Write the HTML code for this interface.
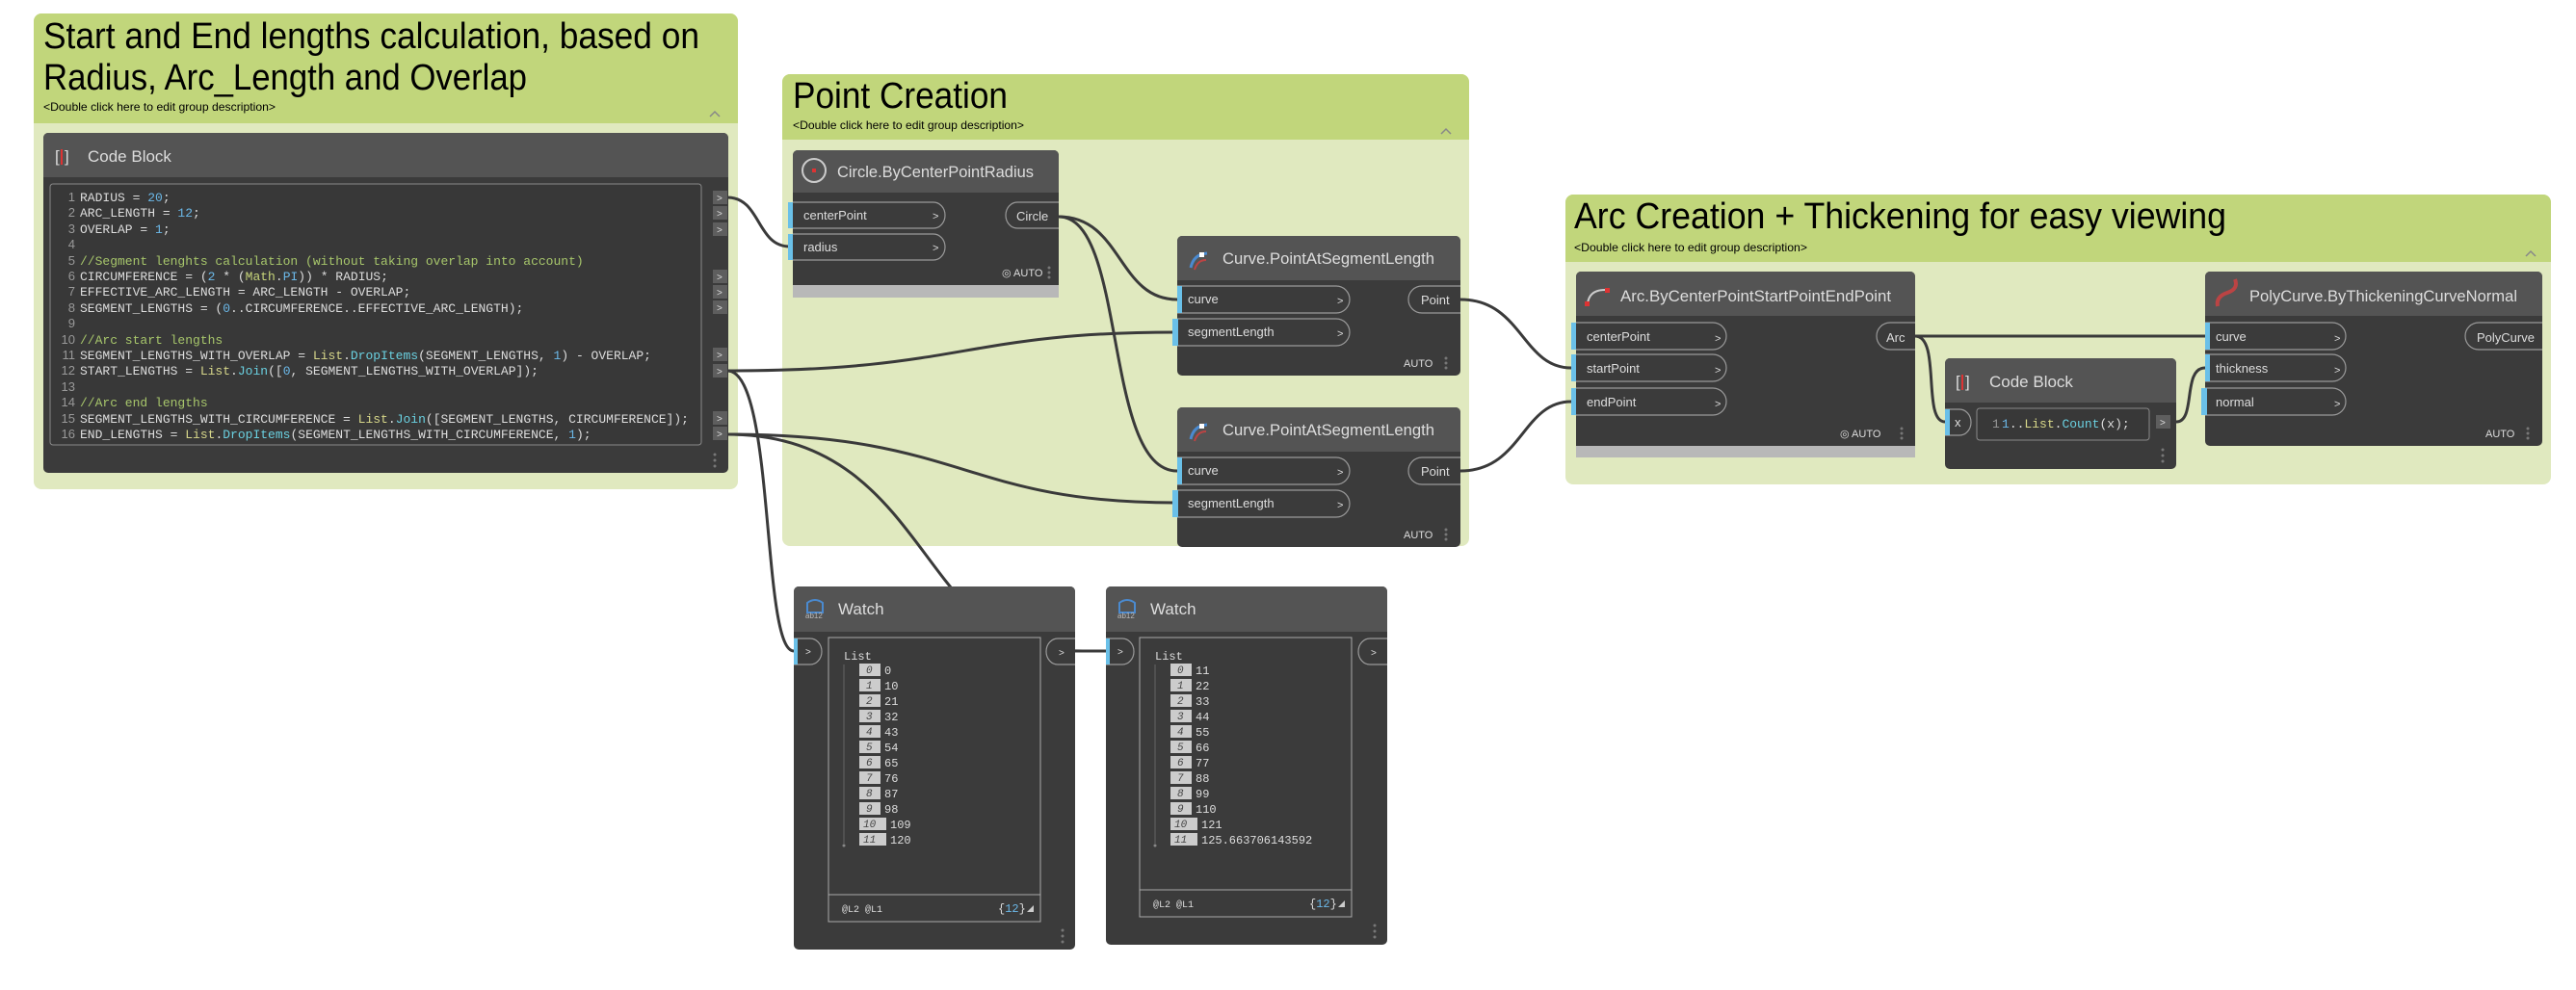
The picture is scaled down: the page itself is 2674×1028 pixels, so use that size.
<!DOCTYPE html>
<html><head><meta charset="utf-8"><style>
html,body{margin:0;padding:0;background:#fff;}
svg{display:block;}
text{font-family:"Liberation Sans",sans-serif;}
.m{font-family:"Liberation Mono",monospace;}
</style></head><body>
<svg width="2674" height="1028" viewBox="0 0 2674 1028" xmlns="http://www.w3.org/2000/svg">
<!-- Groups -->
<rect x="35" y="14" width="731" height="494" rx="8" fill="#e0e9bf"/>
<path d="M35,128 V22 a8,8 0 0 1 8,-8 H758 a8,8 0 0 1 8,8 V128 Z" fill="#c1d67b"/>
<text x="45" y="50" font-size="38" textLength="681" lengthAdjust="spacingAndGlyphs" fill="#000">Start and End lengths calculation, based on</text>
<text x="45" y="93" font-size="38" textLength="502" lengthAdjust="spacingAndGlyphs" fill="#000">Radius, Arc_Length and Overlap</text>
<text x="45" y="115" font-size="12" textLength="241" lengthAdjust="spacingAndGlyphs">&lt;Double click here to edit group description&gt;</text>
<path d="M737,121 l5,-5 l5,5" stroke="#888" stroke-width="1.5" fill="none"/>

<rect x="812" y="77" width="713" height="490" rx="8" fill="#e0e9bf"/>
<path d="M812,145 V85 a8,8 0 0 1 8,-8 H1517 a8,8 0 0 1 8,8 V145 Z" fill="#c1d67b"/>
<text x="823" y="112" font-size="38" textLength="223" lengthAdjust="spacingAndGlyphs">Point Creation</text>
<text x="823" y="134" font-size="12" textLength="240" lengthAdjust="spacingAndGlyphs">&lt;Double click here to edit group description&gt;</text>
<path d="M1496,139 l5,-5 l5,5" stroke="#888" stroke-width="1.5" fill="none"/>

<rect x="1625" y="202" width="1023" height="301" rx="8" fill="#e0e9bf"/>
<path d="M1625,272 V210 a8,8 0 0 1 8,-8 H2640 a8,8 0 0 1 8,8 V272 Z" fill="#c1d67b"/>
<text x="1634" y="237" font-size="38" textLength="677" lengthAdjust="spacingAndGlyphs">Arc Creation + Thickening for easy viewing</text>
<text x="1634" y="261" font-size="12" textLength="242" lengthAdjust="spacingAndGlyphs">&lt;Double click here to edit group description&gt;</text>
<path d="M2622,266 l5,-5 l5,5" stroke="#888" stroke-width="1.5" fill="none"/>

<!-- Wires -->
<g stroke="#3a3a3a" stroke-width="3" fill="none">
<path d="M755,205 C790,205 785,256 820,256"/>
<path d="M755,385 C1000,385 1000,345 1220,345"/>
<path d="M755,385 C805,385 790,676 824,676"/>
<path d="M755,451 C1000,451 1000,522 1220,522"/>
<path d="M755,451 C900,451 940,560 1000,625 C1050,680 1100,676 1148,676"/>
<path d="M1099,225 C1165,225 1160,311 1222,311"/>
<path d="M1099,225 C1170,225 1145,489 1222,489"/>
<path d="M1516,311 C1580,311 1580,382 1631,382"/>
<path d="M1516,489 C1580,489 1580,417 1631,417"/>
<path d="M1988,349 L2289,349"/>
<path d="M1988,349 C2015,349 1995,438 2019,438"/>
<path d="M2259,438 C2280,438 2265,382 2289,382"/>
<path d="M1116,676 L1148,676"/>
</g>

<!-- Code Block big -->
<rect x="45" y="138" width="711" height="353" rx="5" fill="#3b3b3b"/>
<path d="M45,184 V143 a5,5 0 0 1 5,-5 H751 a5,5 0 0 1 5,5 V184 Z" fill="#545454"/>
<text x="57" y="168" font-size="17" fill="#ddd">[</text><rect x="63" y="155" width="2" height="16" fill="#d33"/><text x="67" y="168" font-size="17" fill="#ddd">]</text>
<text x="91" y="168" font-size="17" fill="#ddd">Code Block</text>
<rect x="52" y="191" width="676" height="271" rx="3" fill="#383838" stroke="#8a8a8a" stroke-width="1"/>
<g class="m" font-size="13" fill="#ddd">
<g fill="#999" text-anchor="end">
<text x="78" y="209">1</text><text x="78" y="225">2</text><text x="78" y="242">3</text><text x="78" y="258">4</text><text x="78" y="275">5</text><text x="78" y="291">6</text><text x="78" y="307">7</text><text x="78" y="324">8</text><text x="78" y="340">9</text><text x="78" y="357">10</text><text x="78" y="373">11</text><text x="78" y="389">12</text><text x="78" y="406">13</text><text x="78" y="422">14</text><text x="78" y="439">15</text><text x="78" y="455">16</text>
</g>
<text x="83" y="209" class="m">RADIUS = <tspan fill="#6bb8e8">20</tspan>;</text>
<text x="83" y="225" class="m">ARC_LENGTH = <tspan fill="#6bb8e8">12</tspan>;</text>
<text x="83" y="242" class="m">OVERLAP = <tspan fill="#6bb8e8">1</tspan>;</text>
<text x="83" y="275" class="m" fill="#a7c66b">//Segment lenghts calculation (without taking overlap into account)</text>
<text x="83" y="291" class="m">CIRCUMFERENCE = (<tspan fill="#6bb8e8">2</tspan> * (<tspan fill="#c8d67b">Math</tspan>.<tspan fill="#6bb8e8">PI</tspan>)) * RADIUS;</text>
<text x="83" y="307" class="m">EFFECTIVE_ARC_LENGTH = ARC_LENGTH - OVERLAP;</text>
<text x="83" y="324" class="m">SEGMENT_LENGTHS = (<tspan fill="#6bb8e8">0</tspan>..CIRCUMFERENCE..EFFECTIVE_ARC_LENGTH);</text>
<text x="83" y="357" class="m" fill="#a7c66b">//Arc start lengths</text>
<text x="83" y="373" class="m">SEGMENT_LENGTHS_WITH_OVERLAP = <tspan fill="#d7d78a">List</tspan>.<tspan fill="#6ad0e0">DropItems</tspan>(SEGMENT_LENGTHS, <tspan fill="#6bb8e8">1</tspan>) - OVERLAP;</text>
<text x="83" y="389" class="m">START_LENGTHS = <tspan fill="#d7d78a">List</tspan>.<tspan fill="#6ad0e0">Join</tspan>([<tspan fill="#6bb8e8">0</tspan>, SEGMENT_LENGTHS_WITH_OVERLAP]);</text>
<text x="83" y="422" class="m" fill="#a7c66b">//Arc end lengths</text>
<text x="83" y="439" class="m">SEGMENT_LENGTHS_WITH_CIRCUMFERENCE = <tspan fill="#d7d78a">List</tspan>.<tspan fill="#6ad0e0">Join</tspan>([SEGMENT_LENGTHS, CIRCUMFERENCE]);</text>
<text x="83" y="455" class="m">END_LENGTHS = <tspan fill="#d7d78a">List</tspan>.<tspan fill="#6ad0e0">DropItems</tspan>(SEGMENT_LENGTHS_WITH_CIRCUMFERENCE, <tspan fill="#6bb8e8">1</tspan>);</text>
</g>
<g fill="#5e5e5e">
<rect x="740" y="198" width="15" height="14"/><rect x="740" y="214" width="15" height="14"/><rect x="740" y="231" width="15" height="14"/>
<rect x="740" y="280" width="15" height="14"/><rect x="740" y="296" width="15" height="14"/><rect x="740" y="312" width="15" height="14"/>
<rect x="740" y="361" width="15" height="14"/><rect x="740" y="378" width="15" height="14"/>
<rect x="740" y="427" width="15" height="14"/><rect x="740" y="443" width="15" height="14"/>
</g>
<g font-size="10" fill="#ddd">
<text x="744" y="209">&gt;</text><text x="744" y="225">&gt;</text><text x="744" y="242">&gt;</text><text x="744" y="291">&gt;</text><text x="744" y="307">&gt;</text><text x="744" y="323">&gt;</text><text x="744" y="372">&gt;</text><text x="744" y="389">&gt;</text><text x="744" y="438">&gt;</text><text x="744" y="454">&gt;</text>
</g>
<g fill="#777"><circle cx="742" cy="472" r="1.5"/><circle cx="742" cy="478" r="1.5"/><circle cx="742" cy="484" r="1.5"/></g>

<!-- Circle node -->
<rect x="823" y="156" width="276" height="153" rx="5" fill="#3b3b3b"/>
<path d="M823,200 V161 a5,5 0 0 1 5,-5 H1094 a5,5 0 0 1 5,5 V200 Z" fill="#545454"/>
<rect x="823" y="296" width="276" height="13" fill="#b8b8b8"/>
<circle cx="845" cy="177" r="12" fill="none" stroke="#ccc" stroke-width="2"/><rect x="843" y="175" width="4" height="4" fill="#d33"/>
<text x="869" y="184" font-size="17" fill="#ddd" textLength="204" lengthAdjust="spacingAndGlyphs">Circle.ByCenterPointRadius</text>
<g fill="none" stroke="#999" stroke-width="1.2">
<path d="M823,210 H969 a12,13.5 0 0 1 12,13.5 a12,13.5 0 0 1 -12,13.5 H823"/>
<path d="M823,243 H969 a12,13.5 0 0 1 12,13.5 a12,13.5 0 0 1 -12,13.5 H823"/>
<path d="M1099,210 H1056 a12,13.5 0 0 0 -12,13.5 a12,13.5 0 0 0 12,13.5 H1099"/>
</g>
<rect x="818" y="210" width="5" height="27" fill="#6ac0e8"/><rect x="818" y="243" width="5" height="27" fill="#6ac0e8"/>
<g font-size="13" fill="#ddd"><text x="834" y="228">centerPoint</text><text x="834" y="261">radius</text><text x="968" y="228" font-size="11">&gt;</text><text x="968" y="261" font-size="11">&gt;</text><text x="1055" y="229">Circle</text></g>
<text x="1040" y="287" font-size="11" fill="#ddd">◎ AUTO</text>
<g fill="#777"><circle cx="1089" cy="278" r="1.5"/><circle cx="1089" cy="283" r="1.5"/><circle cx="1089" cy="288" r="1.5"/></g>

<!-- Curve nodes -->
<g id="cv">
<rect x="1222" y="245" width="294" height="145" rx="5" fill="#3b3b3b"/>
<path d="M1222,291 V250 a5,5 0 0 1 5,-5 H1511 a5,5 0 0 1 5,5 V291 Z" fill="#545454"/>
<path d="M1236,278 q3,-14 17,-15" stroke="#4a8ad0" stroke-width="3" fill="none"/><path d="M1240,280 q3,-10 12,-10" stroke="#b44" stroke-width="2" fill="none"/><rect x="1245" y="262" width="5" height="5" fill="#fff"/>
<text x="1269" y="274" font-size="17" fill="#ddd" textLength="220" lengthAdjust="spacingAndGlyphs">Curve.PointAtSegmentLength</text>
<g fill="none" stroke="#999" stroke-width="1.2">
<path d="M1222,297 H1387 a14,14 0 0 1 14,14 a14,14 0 0 1 -14,14 H1222"/>
<path d="M1222,331 H1387 a14,14 0 0 1 14,14 a14,14 0 0 1 -14,14 H1222"/>
<path d="M1516,297 H1476 a14,14 0 0 0 -14,14 a14,14 0 0 0 14,14 H1516"/>
</g>
<rect x="1222" y="297" width="5" height="28" fill="#6ac0e8"/><rect x="1217" y="331" width="6" height="28" fill="#6ac0e8"/>
<g font-size="13" fill="#ddd"><text x="1233" y="315">curve</text><text x="1233" y="349">segmentLength</text><text x="1388" y="316" font-size="11">&gt;</text><text x="1388" y="350" font-size="11">&gt;</text><text x="1475" y="316">Point</text></g>
<text x="1457" y="381" font-size="11" fill="#ddd">AUTO</text>
<g fill="#777"><circle cx="1501" cy="372" r="1.5"/><circle cx="1501" cy="377" r="1.5"/><circle cx="1501" cy="382" r="1.5"/></g>
</g>
<use href="#cv" y="178"/>

<!-- Arc node -->
<rect x="1636" y="282" width="352" height="193" rx="5" fill="#3b3b3b"/>
<path d="M1636,328 V287 a5,5 0 0 1 5,-5 H1983 a5,5 0 0 1 5,5 V328 Z" fill="#545454"/>
<rect x="1636" y="463" width="352" height="12" fill="#b8b8b8"/>
<path d="M1648,315 q2,-14 18,-14" stroke="#ccc" stroke-width="2" fill="none"/><rect x="1645" y="313" width="5" height="5" fill="#d33"/><rect x="1666" y="299" width="5" height="5" fill="#d33"/>
<text x="1682" y="313" font-size="17" fill="#ddd" textLength="281" lengthAdjust="spacingAndGlyphs">Arc.ByCenterPointStartPointEndPoint</text>
<g fill="none" stroke="#999" stroke-width="1.2">
<path d="M1636,335 H1778 a14,14 0 0 1 14,14 a14,14 0 0 1 -14,14 H1636"/>
<path d="M1636,368 H1778 a14,14 0 0 1 14,14 a14,14 0 0 1 -14,14 H1636"/>
<path d="M1636,403 H1778 a14,14 0 0 1 14,14 a14,14 0 0 1 -14,14 H1636"/>
<path d="M1988,335 H1962 a14,14 0 0 0 -14,14 a14,14 0 0 0 14,14 H1988"/>
</g>
<rect x="1631" y="335" width="5" height="28" fill="#6ac0e8"/><rect x="1631" y="368" width="5" height="28" fill="#6ac0e8"/><rect x="1631" y="403" width="5" height="28" fill="#6ac0e8"/>
<g font-size="13" fill="#ddd"><text x="1647" y="354">centerPoint</text><text x="1647" y="387">startPoint</text><text x="1647" y="422">endPoint</text><text x="1780" y="355" font-size="11">&gt;</text><text x="1780" y="388" font-size="11">&gt;</text><text x="1780" y="423" font-size="11">&gt;</text><text x="1958" y="355">Arc</text></g>
<text x="1910" y="454" font-size="11" fill="#ddd">◎ AUTO</text>
<g fill="#777"><circle cx="1974" cy="445" r="1.5"/><circle cx="1974" cy="450" r="1.5"/><circle cx="1974" cy="455" r="1.5"/></g>

<!-- small Code Block -->
<rect x="2019" y="372" width="240" height="115" rx="5" fill="#3b3b3b"/>
<path d="M2019,418 V377 a5,5 0 0 1 5,-5 H2254 a5,5 0 0 1 5,5 V418 Z" fill="#545454"/>
<text x="2030" y="402" font-size="17" fill="#ddd">[</text><rect x="2036" y="389" width="2" height="16" fill="#d33"/><text x="2040" y="402" font-size="17" fill="#ddd">]</text>
<text x="2065" y="402" font-size="17" fill="#ddd">Code Block</text>
<path d="M2019,425 H2034 a12,13.5 0 0 1 12,13.5 a12,13.5 0 0 1 -12,13.5 H2019" fill="none" stroke="#999" stroke-width="1.2"/>
<rect x="2019" y="425" width="5" height="27" fill="#6ac0e8"/>
<text x="2029" y="443" font-size="13" fill="#ddd">x</text>
<rect x="2052" y="424" width="179" height="33" rx="3" fill="#383838" stroke="#8a8a8a"/>
<text x="2068" y="444" class="m" font-size="13" fill="#999">1</text>
<text x="2078" y="444" class="m" font-size="13" fill="#ddd"><tspan fill="#6bb8e8">1</tspan>..<tspan fill="#d7d78a">List</tspan>.<tspan fill="#6ad0e0">Count</tspan>(x);</text>
<rect x="2238" y="431" width="15" height="14" fill="#5e5e5e"/><text x="2242" y="442" font-size="10" fill="#ddd">&gt;</text>
<g fill="#777"><circle cx="2245" cy="467" r="1.5"/><circle cx="2245" cy="473" r="1.5"/><circle cx="2245" cy="479" r="1.5"/></g>

<!-- PolyCurve node -->
<rect x="2289" y="282" width="350" height="181" rx="5" fill="#3b3b3b"/>
<path d="M2289,328 V287 a5,5 0 0 1 5,-5 H2634 a5,5 0 0 1 5,5 V328 Z" fill="#545454"/>
<path d="M2302,318 q-2,-10 10,-14 q12,-4 8,-14" stroke="#b44" stroke-width="4" fill="none"/>
<text x="2335" y="313" font-size="17" fill="#ddd" textLength="278" lengthAdjust="spacingAndGlyphs">PolyCurve.ByThickeningCurveNormal</text>
<g fill="none" stroke="#999" stroke-width="1.2">
<path d="M2289,335 H2421 a14,14 0 0 1 14,14 a14,14 0 0 1 -14,14 H2289"/>
<path d="M2289,368 H2421 a14,14 0 0 1 14,14 a14,14 0 0 1 -14,14 H2289"/>
<path d="M2289,403 H2421 a14,14 0 0 1 14,14 a14,14 0 0 1 -14,14 H2289"/>
<path d="M2639,335 H2573 a14,14 0 0 0 -14,14 a14,14 0 0 0 14,14 H2639"/>
</g>
<rect x="2289" y="335" width="5" height="28" fill="#6ac0e8"/><rect x="2289" y="368" width="5" height="28" fill="#6ac0e8"/><rect x="2285" y="403" width="6" height="28" fill="#6ac0e8"/>
<g font-size="13" fill="#ddd"><text x="2300" y="354">curve</text><text x="2300" y="387">thickness</text><text x="2300" y="422">normal</text><text x="2423" y="355" font-size="11">&gt;</text><text x="2423" y="388" font-size="11">&gt;</text><text x="2423" y="423" font-size="11">&gt;</text><text x="2571" y="355">PolyCurve</text></g>
<text x="2580" y="454" font-size="11" fill="#ddd">AUTO</text>
<g fill="#777"><circle cx="2624" cy="445" r="1.5"/><circle cx="2624" cy="450" r="1.5"/><circle cx="2624" cy="455" r="1.5"/></g>

<!-- Watch 1 -->
<rect x="824" y="609" width="292" height="377" rx="5" fill="#3b3b3b"/>
<path d="M824,656 V614 a5,5 0 0 1 5,-5 H1111 a5,5 0 0 1 5,5 V656 Z" fill="#545454"/>
<path d="M838,626 q8,-6 16,0 v10 h-16 z" fill="none" stroke="#4a8ad0" stroke-width="2"/><text x="836" y="642" font-size="8" fill="#bbb">ab12</text>
<text x="870" y="638" font-size="17" fill="#ddd">Watch</text>
<path d="M824,663 H841 a12,13.5 0 0 1 12,13.5 a12,13.5 0 0 1 -12,13.5 H824" fill="none" stroke="#999" stroke-width="1.2"/>
<rect x="824" y="663" width="4" height="27" fill="#6ac0e8"/><text x="836" y="680" font-size="10" fill="#ddd">&gt;</text>
<path d="M1116,663 H1098 a12,13.5 0 0 0 -12,13.5 a12,13.5 0 0 0 12,13.5 H1116" fill="none" stroke="#999" stroke-width="1.2"/><text x="1099" y="681" font-size="10" fill="#ddd">&gt;</text>
<rect x="860" y="662" width="220" height="295" fill="none" stroke="#aaa"/>
<line x1="860" y1="929" x2="1080" y2="929" stroke="#aaa"/>
<line x1="876" y1="690" x2="876" y2="876" stroke="#666"/><circle cx="876" cy="878" r="1.5" fill="#888"/>
<g class="m" font-size="12" fill="#ddd">
<text x="876" y="685" class="m">List</text>
<g fill="#ccc"><rect x="892" y="689" width="22" height="13"/><rect x="892" y="705" width="22" height="13"/><rect x="892" y="721" width="22" height="13"/><rect x="892" y="737" width="22" height="13"/><rect x="892" y="753" width="22" height="13"/><rect x="892" y="769" width="22" height="13"/><rect x="892" y="785" width="22" height="13"/><rect x="892" y="801" width="22" height="13"/><rect x="892" y="817" width="22" height="13"/><rect x="892" y="833" width="22" height="13"/><rect x="892" y="849" width="28" height="13"/><rect x="892" y="865" width="28" height="13"/></g>
<g fill="#444" font-style="italic" font-size="11"><text x="899" y="699" class="m">0</text><text x="899" y="715" class="m">1</text><text x="899" y="731" class="m">2</text><text x="899" y="747" class="m">3</text><text x="899" y="763" class="m">4</text><text x="899" y="779" class="m">5</text><text x="899" y="795" class="m">6</text><text x="899" y="811" class="m">7</text><text x="899" y="827" class="m">8</text><text x="899" y="843" class="m">9</text><text x="896" y="859" class="m">10</text><text x="896" y="875" class="m">11</text></g>
<text x="918" y="700" class="m">0</text><text x="918" y="716" class="m">10</text><text x="918" y="732" class="m">21</text><text x="918" y="748" class="m">32</text><text x="918" y="764" class="m">43</text><text x="918" y="780" class="m">54</text><text x="918" y="796" class="m">65</text><text x="918" y="812" class="m">76</text><text x="918" y="828" class="m">87</text><text x="918" y="844" class="m">98</text><text x="924" y="860" class="m">109</text><text x="924" y="876" class="m">120</text>
<text x="874" y="947" font-size="10" class="m">@L2 @L1</text>
<text x="1036" y="947" class="m">{<tspan fill="#6bb8e8">12</tspan>}</text>
</g>
<path d="M1066,947 l7,-7 v7 z" fill="#ccc"/>
<g fill="#777"><circle cx="1103" cy="966" r="1.5"/><circle cx="1103" cy="972" r="1.5"/><circle cx="1103" cy="978" r="1.5"/></g>

<!-- Watch 2 -->
<rect x="1148" y="609" width="292" height="372" rx="5" fill="#3b3b3b"/>
<path d="M1148,656 V614 a5,5 0 0 1 5,-5 H1435 a5,5 0 0 1 5,5 V656 Z" fill="#545454"/>
<path d="M1162,626 q8,-6 16,0 v10 h-16 z" fill="none" stroke="#4a8ad0" stroke-width="2"/><text x="1160" y="642" font-size="8" fill="#bbb">ab12</text>
<text x="1194" y="638" font-size="17" fill="#ddd">Watch</text>
<path d="M1148,663 H1165 a12,13.5 0 0 1 12,13.5 a12,13.5 0 0 1 -12,13.5 H1148" fill="none" stroke="#999" stroke-width="1.2"/>
<rect x="1148" y="663" width="4" height="27" fill="#6ac0e8"/><text x="1160" y="680" font-size="10" fill="#ddd">&gt;</text>
<path d="M1440,663 H1422 a12,13.5 0 0 0 -12,13.5 a12,13.5 0 0 0 12,13.5 H1440" fill="none" stroke="#999" stroke-width="1.2"/><text x="1423" y="681" font-size="10" fill="#ddd">&gt;</text>
<rect x="1183" y="662" width="220" height="290" fill="none" stroke="#aaa"/>
<line x1="1183" y1="924" x2="1403" y2="924" stroke="#aaa"/>
<line x1="1199" y1="690" x2="1199" y2="876" stroke="#666"/><circle cx="1199" cy="878" r="1.5" fill="#888"/>
<g class="m" font-size="12" fill="#ddd">
<text x="1199" y="685" class="m">List</text>
<g fill="#ccc"><rect x="1215" y="689" width="22" height="13"/><rect x="1215" y="705" width="22" height="13"/><rect x="1215" y="721" width="22" height="13"/><rect x="1215" y="737" width="22" height="13"/><rect x="1215" y="753" width="22" height="13"/><rect x="1215" y="769" width="22" height="13"/><rect x="1215" y="785" width="22" height="13"/><rect x="1215" y="801" width="22" height="13"/><rect x="1215" y="817" width="22" height="13"/><rect x="1215" y="833" width="22" height="13"/><rect x="1215" y="849" width="28" height="13"/><rect x="1215" y="865" width="28" height="13"/></g>
<g fill="#444" font-style="italic" font-size="11"><text x="1222" y="699" class="m">0</text><text x="1222" y="715" class="m">1</text><text x="1222" y="731" class="m">2</text><text x="1222" y="747" class="m">3</text><text x="1222" y="763" class="m">4</text><text x="1222" y="779" class="m">5</text><text x="1222" y="795" class="m">6</text><text x="1222" y="811" class="m">7</text><text x="1222" y="827" class="m">8</text><text x="1222" y="843" class="m">9</text><text x="1219" y="859" class="m">10</text><text x="1219" y="875" class="m">11</text></g>
<text x="1241" y="700" class="m">11</text><text x="1241" y="716" class="m">22</text><text x="1241" y="732" class="m">33</text><text x="1241" y="748" class="m">44</text><text x="1241" y="764" class="m">55</text><text x="1241" y="780" class="m">66</text><text x="1241" y="796" class="m">77</text><text x="1241" y="812" class="m">88</text><text x="1241" y="828" class="m">99</text><text x="1241" y="844" class="m">110</text><text x="1247" y="860" class="m">121</text><text x="1247" y="876" class="m">125.663706143592</text>
<text x="1197" y="942" font-size="10" class="m">@L2 @L1</text>
<text x="1359" y="942" class="m">{<tspan fill="#6bb8e8">12</tspan>}</text>
</g>
<path d="M1389,942 l7,-7 v7 z" fill="#ccc"/>
<g fill="#777"><circle cx="1427" cy="961" r="1.5"/><circle cx="1427" cy="967" r="1.5"/><circle cx="1427" cy="973" r="1.5"/></g>
</svg>
</body></html>
